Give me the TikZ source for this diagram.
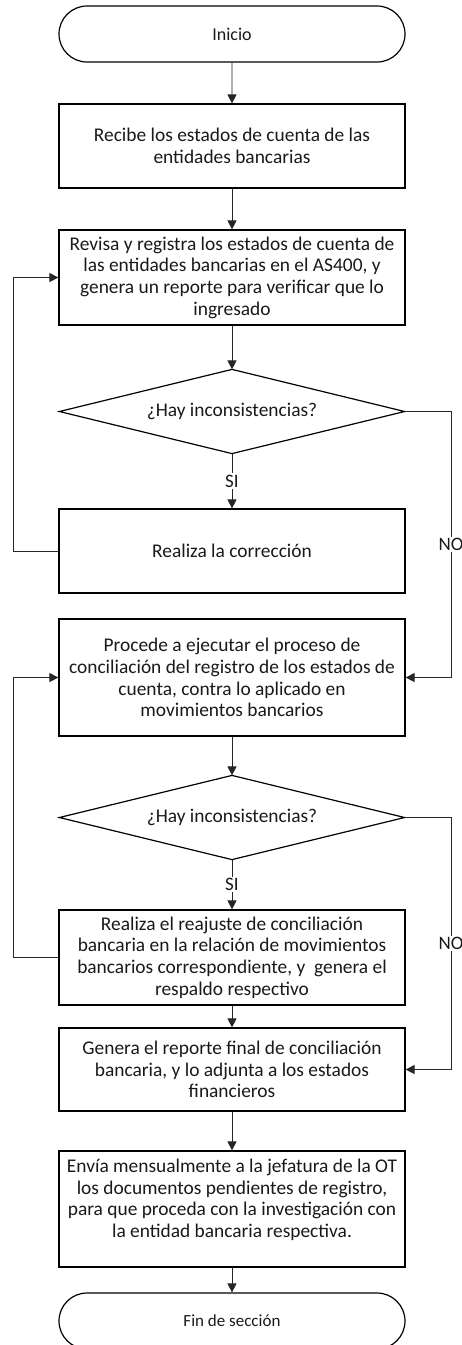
\documentclass[tikz,border=0pt]{standalone}
\usepackage{fontspec}
\setmainfont{Carlito}
\usetikzlibrary{shapes.misc,arrows.meta}
\tikzset{
  base/.style={draw=black, line width=1.2pt, align=center, inner sep=0pt,
    font=\fontsize{19.4}{21.7}\selectfont, text=black!90},
  proc/.style={base, rectangle, minimum width=346pt},
  term/.style={base, rounded rectangle, minimum width=346pt, minimum height=56pt,
    font=\fontsize{18}{21.7}\selectfont},
  dec/.style={base, draw=none, rectangle, minimum width=344pt, minimum height=83pt},
  decline/.style={draw=black, line width=1.2pt, line join=miter},
  conn/.style={draw=black!85, line width=0.9pt, -{Triangle[length=9pt,width=9pt]}},
  lbl/.style={fill=white, inner sep=1.5pt, font=\fontsize{19}{21.7}\selectfont, text=black!90}
}
\begin{document}
\begin{tikzpicture}[x=1pt,y=-1pt]
\useasboundingbox (0,0) rectangle (461,1345);
\node[term] (ini) at (232,34) {Inicio};
\node[proc, minimum height=84pt] (b1) at (232,146) {Recibe los estados de cuenta de las\\entidades bancarias};
\node[proc, minimum height=95pt] (b2) at (232,277.5) {Revisa y registra los estados de cuenta de\\las entidades bancarias en el AS400, y\\genera un reporte para verificar que lo\\ingresado};
\node[dec] (d1) at (232,411.5) {¿Hay inconsistencias?};
\draw[decline] (d1.north) -- (d1.east) -- (d1.south) -- (d1.west) -- cycle;
\node[proc, minimum height=84pt] (b3) at (232,551) {Realiza la corrección};
\node[proc, minimum height=117pt] (b4) at (232,677.5) {Procede a ejecutar el proceso de\\conciliación del registro de los estados de\\cuenta, contra lo aplicado en\\movimientos bancarios};
\node[dec] (d2) at (232,817.5) {¿Hay inconsistencias?};
\draw[decline] (d2.north) -- (d2.east) -- (d2.south) -- (d2.west) -- cycle;
\node[proc, minimum height=95pt] (b5) at (232,957.5) {Realiza el reajuste de conciliación\\bancaria en la relación de movimientos\\bancarios correspondiente, y\ \ genera el\\respaldo respectivo};
\node[proc, minimum height=83pt] (b6) at (232,1069.5) {Genera el reporte final de conciliación\\bancaria, y lo adjunta a los estados\\financieros};
\node[proc, minimum height=116pt] (b7) at (232,1209) {Envía mensualmente a la jefatura de la OT\\los documentos pendientes de registro,\\para que proceda con la investigación con\\la entidad bancaria respectiva.\\\mbox{}};
\node[term, font=\fontsize{17}{20}\selectfont] (fin) at (232,1321) {Fin de sección};

\coordinate (r1) at (451,677.5);
\coordinate (r2) at (451,1069.5);

\draw[conn] (ini) -- (b1);
\draw[conn] (b1) -- (b2);
\draw[conn] (b2) -- (d1.north);
\draw[conn] (d1.south) -- node[lbl]{SI} (b3);
\draw[conn] (d1.east) -| node[lbl,pos=0.75]{NO} (r1) -- (b4.east);
\draw[conn] (b3.west) -- ++(-45,0) |- (b2.west);
\draw[conn] (b4) -- (d2.north);
\draw[conn] (d2.south) -- node[lbl]{SI} (b5);
\draw[conn] (d2.east) -| node[lbl,pos=0.75]{NO} (r2) -- (b6.east);
\draw[conn] (b5.west) -- ++(-45,0) |- (b4.west);
\draw[conn] (b5) -- (b6);
\draw[conn] (b6) -- (b7);
\draw[conn] (b7) -- (fin);
\end{tikzpicture}
\end{document}
